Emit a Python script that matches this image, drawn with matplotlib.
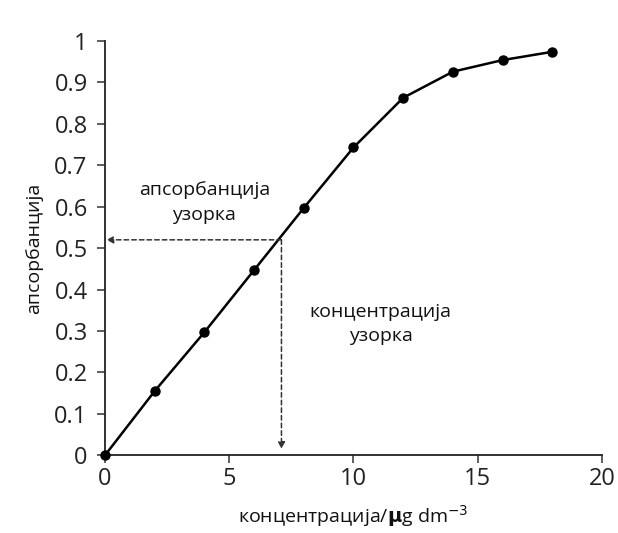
import matplotlib
matplotlib.use("Agg")
import matplotlib.pyplot as plt

concentration = [0, 2, 4, 6, 8, 10, 12, 14, 16, 18]
absorbance = [0.0, 0.155, 0.297, 0.447, 0.597, 0.743, 0.863, 0.926, 0.954, 0.974]
sample_abs = 0.52
sample_conc = 7.1
xticks = [0, 5, 10, 15, 20]
yticks = [0, 0.1, 0.2, 0.3, 0.4, 0.5, 0.6, 0.7, 0.8, 0.9, 1]
ytick_labels = ["0", "0.1", "0.2", "0.3", "0.4", "0.5", "0.6", "0.7", "0.8", "0.9", "1"]

plt.rcParams['font.family'] = ['Open Sans', 'DejaVu Sans']

fig = plt.figure(figsize=(6.18, 5.33), dpi=100)
ax = fig.add_axes([0.170, 0.146, 0.804, 0.777])

ax.plot(concentration, absorbance, color='black', lw=1.8, marker='o', ms=6.5,
        markerfacecolor='black', zorder=3, clip_on=False)

# dashed guide lines with arrows
ax.annotate('', xy=(0.05, sample_abs), xytext=(sample_conc, sample_abs),
            arrowprops=dict(arrowstyle='-|>', linestyle=(0, (3, 2)), color='#333333',
                            lw=1.1, mutation_scale=10, shrinkA=0, shrinkB=0))
ax.annotate('', xy=(sample_conc, 0.015), xytext=(sample_conc, sample_abs),
            arrowprops=dict(arrowstyle='-|>', linestyle=(0, (3, 2)), color='#333333',
                            lw=1.1, mutation_scale=10, shrinkA=0, shrinkB=0))

ax.text(4.0, 0.61, 'апсорбанција\nузорка', ha='center', va='center', fontsize=14,
        linespacing=1.45, color='#111111')
ax.text(11.1, 0.316, 'концентрација\nузорка', ha='center', va='center', fontsize=14,
        linespacing=1.45, color='#111111')

ax.set_xlim(0, 20)
ax.set_ylim(0, 1)
ax.set_xticks(xticks)
ax.set_yticks(yticks)
ax.set_yticklabels(ytick_labels)
ax.tick_params(axis='both', labelsize=17, length=5.5, width=1.1, color='#333333',
               labelcolor='#222222')
ax.tick_params(axis='y', pad=7)
ax.tick_params(axis='x', pad=3)
for s in ['top', 'right']:
    ax.spines[s].set_visible(False)
for s in ['left', 'bottom']:
    ax.spines[s].set_linewidth(1.3)
    ax.spines[s].set_color('#222222')

ax.set_xlabel('концентрација/$\\mathbf{\\mu}$g dm$^{-3}$', fontsize=14, labelpad=9,
              color='#111111')
ax.set_ylabel('апсорбанција', fontsize=14, labelpad=8, color='#111111')

fig.savefig('out.png', dpi=100)
